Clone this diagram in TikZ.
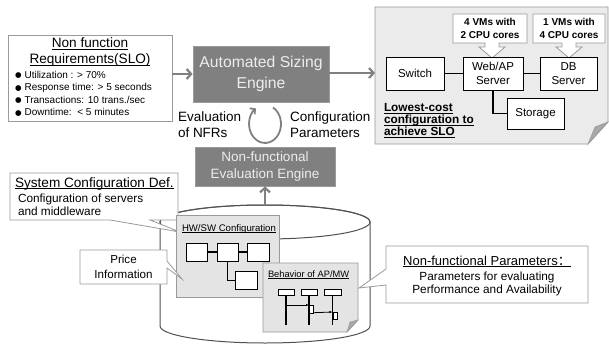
\documentclass[tikz,border=0pt]{standalone}
\usepackage{fontspec}
\setmainfont{Liberation Sans}
\newfontfamily\cjk{Noto Sans CJK SC}
\newfontfamily\dejavu{DejaVu Sans}
\usetikzlibrary{arrows.meta}
\definecolor{engfill}{HTML}{808080}
\definecolor{engtext}{HTML}{EDEDED}
\definecolor{arrgray}{HTML}{808080}
\definecolor{boxline}{HTML}{9A9A9A}
\definecolor{notefill}{HTML}{EBEBEB}
\definecolor{hwfill}{HTML}{E4E4E4}
\definecolor{flapfill}{HTML}{A8A8A8}
\definecolor{cylline}{HTML}{505050}
\newcommand\fs[2]{\fontsize{#1}{#2}\selectfont}
\newcommand\uln[1]{\leavevmode\setbox0=\hbox{#1}\rlap{\rule[-0.17em]{\wd0}{0.07em}}\box0}
\newcommand\bul{{\dejavu\fs{7.5}{12}\raisebox{0.3pt}{●}}\hspace{3pt}}
\begin{document}
\begin{tikzpicture}[x=1pt,y=-1pt,
  txt/.style={inner sep=0pt, outer sep=0pt},
  engine/.style={draw=boxline, fill=engfill, text=engtext, align=center, inner sep=0pt, line width=0.8pt},
  garrow/.style={draw=arrgray, line width=2.2pt, -{Straight Barb[length=4.5pt,width=10pt]}},
  callbox/.style={draw=boxline, fill=white, line width=0.8pt},
  netbox/.style={draw=black, fill=white, line width=1pt, align=center, inner sep=0pt, font=\fs{11.5}{13.5}},
  netline/.style={draw=black, line width=1.5pt},
  notebg/.style={draw=boxline, fill=notefill, line width=0.8pt},
  hwbox/.style={draw=black, fill=white, line width=1pt, inner sep=0pt},
  seqline/.style={draw=black, line width=1.3pt},
  seqarrow/.style={draw=black, line width=0.8pt, -{Latex[length=3pt,width=2.5pt]}}
]
\useasboundingbox (0,0) rectangle (609,345);
\fill[white] (0,0) rectangle (609,345);

% ---------- Non function requirements ----------
\node[callbox, minimum width=164pt, minimum height=86pt, inner sep=0pt] (nfr) at (90,78) {};
\node[txt, anchor=base, font=\fs{13.6}{16}] (nfrh1) at (90,47.5) {\uln{Non function}};
\node[txt, anchor=base, font=\fs{13.6}{16}] (nfrh2) at (90,63.5) {\uln{Requirements(SLO)}};
\node[txt, anchor=base west, font=\fs{10}{12}] (b1) at (15,78) {\bul Utilization : > 70\%};
\node[txt, anchor=base west, font=\fs{10}{12}] (b2) at (15,90.5) {\bul Response time: > 5 seconds};
\node[txt, anchor=base west, font=\fs{10}{12}] (b3) at (15,103) {\bul Transactions: 10 trans./sec};
\node[txt, anchor=base west, font=\fs{10}{12}] (b4) at (15,115.5) {\bul Downtime:\ \ < 5 minutes};

% ---------- Engines ----------
\node[engine, minimum width=136pt, minimum height=56pt, font=\fs{15.7}{20.5}] (ase) at (261,74) {Automated Sizing\\Engine};
\node[engine, minimum width=140pt, minimum height=39pt, font=\fs{13.5}{17}] (nfe) at (265,166.5) {Non-functional\\Evaluation Engine};

\draw[garrow] (nfr.east |- ase.west) -- (ase.west);
\coordinate (notel) at (375,73);
\draw[garrow] (ase.east |- notel) -- (notel);

% loop arrow
\draw[draw=arrgray, line width=1.8pt, -{Straight Barb[length=3.5pt,width=8pt]}]
  (273,107.5) arc[start angle=60, end angle=-235, x radius=16pt, y radius=19pt];
\node[txt, anchor=west, align=left, font=\fs{13.5}{16}] (evl) at (178,125) {Evaluation\\of NFRs};
\node[txt, anchor=west, align=left, font=\fs{13.5}{16}] (cfl) at (290,125) {Configuration\\Parameters};

% ---------- Result note ----------
\path[notebg] (375,7) -- (608,7) -- (608,122) -- (588,144) -- (375,144) -- cycle;
\path[fill=flapfill, draw=boxline, line width=0.6pt] (588,144) -- (608,122) -- (595,127) -- cycle;

% callouts
\path[callbox] (453,14) -- (527,14) -- (527,43) -- (499,43) -- (499,47) -- (505,47) -- (492,58)
  -- (479,47) -- (485,47) -- (485,43) -- (453,43) -- cycle;
\path[callbox] (533,14) -- (605,14) -- (605,43) -- (576,43) -- (576,47) -- (582,47) -- (569,58)
  -- (556,47) -- (562,47) -- (562,43) -- (533,43) -- cycle;
\node[txt, align=center, font=\bfseries\fs{10}{12.5}] (vm1) at (490,28.5) {4 VMs with\\2 CPU cores};
\node[txt, align=center, font=\bfseries\fs{10}{12.5}] (vm2) at (569,28.5) {1 VMs with\\4 CPU cores};

\node[netbox, minimum width=58pt, minimum height=33pt] (sw) at (415,73.5) {Switch};
\node[netbox, minimum width=60pt, minimum height=33pt] (web) at (493,73.5) {Web/AP\\Server};
\node[netbox, minimum width=57pt, minimum height=33pt] (db) at (568.5,73.5) {DB\\Server};
\node[netbox, minimum width=57pt, minimum height=31pt] (st) at (535.5,113.5) {Storage};
\draw[netline] (sw.east) -- (web.west);
\draw[netline] (web.east) -- (db.west);
\draw[netline] (web.south) |- (st.west);

\node[txt, anchor=base west, font=\bfseries\fs{11.8}{12}] (lc1) at (384,111.5) {\uln{Lowest-cost}};
\node[txt, anchor=base west, font=\bfseries\fs{11.8}{12}] (lc2) at (384,123.5) {\uln{configuration to}};
\node[txt, anchor=base west, font=\bfseries\fs{11.8}{12}] (lc3) at (384,135.5) {\uln{achieve SLO}};

% ---------- Cylinder ----------
\path[draw=cylline, fill=white, line width=1pt]
  (160,222) -- (160,326) arc[start angle=180, end angle=360, x radius=105pt, y radius=17pt]
  -- (370,222) arc[start angle=0, end angle=180, x radius=105pt, y radius=17pt] -- cycle;
\draw[draw=cylline, line width=1pt] (265,222) ellipse[x radius=105pt, y radius=17pt];
\coordinate (cyltop) at (265,205);
\draw[garrow] (cyltop) -- (nfe.south);

% System configuration callout
\path[callbox] (10,173) -- (178,173) -- (178,220) -- (150,220) -- (180,232) -- (110,220) -- (10,220) -- cycle;
\node[txt, anchor=base west, font=\fs{13.6}{16}] (scd) at (15,187) {\uln{System Configuration Def.}};
\node[txt, anchor=base west, font=\fs{11.8}{13}] (scd1) at (18,202) {Configuration of servers};
\node[txt, anchor=base west, font=\fs{11.8}{13}] (scd2) at (18,215) {and middleware};

% HW/SW note
\path[draw=boxline, fill=hwfill, line width=0.8pt] (176,215) rectangle (279,297);
\node[txt, anchor=base west, font=\fs{9.6}{11}] (hwt) at (182,231) {\uln{HW/SW Configuration}};
\node[hwbox, minimum width=21pt, minimum height=18pt] (h1) at (196.5,252) {};
\node[hwbox, minimum width=21pt, minimum height=18pt] (h2) at (227.5,252) {};
\node[hwbox, minimum width=22pt, minimum height=18pt] (h3) at (258,252) {};
\node[hwbox, minimum width=22pt, minimum height=18pt] (h4) at (246,280) {};
\draw[netline] (h1.east) -- (h2.west);
\draw[netline] (h2.east) -- (h3.west);
\draw[draw=black, line width=1pt] (h2.south) |- (h4.west);

% Price callout
\path[callbox] (80,250) -- (167,250) -- (167,261) -- (182,279) -- (167,268) -- (167,284) -- (80,284) -- cycle;
\node[txt, align=center, font=\fs{11.6}{15}] (price) at (123.5,267) {Price\\Information};

% Behavior note
\path[draw=boxline, fill=hwfill, line width=0.8pt] (263,263) -- (358,263) -- (358,320) -- (347,332) -- (263,332) -- cycle;
\path[fill=flapfill, draw=boxline, line width=0.5pt] (347,332) -- (358,320) -- (350,322) -- cycle;
\node[txt, anchor=base west, font=\fs{9.3}{11}] (beh) at (268,277.5) {\uln{Behavior of AP/MW}};
\node[hwbox, minimum width=16pt, minimum height=6pt, line width=0.9pt] (s1) at (286,292) {};
\node[hwbox, minimum width=16pt, minimum height=6pt, line width=0.9pt] (s2) at (309,292) {};
\node[hwbox, minimum width=17pt, minimum height=6pt, line width=0.9pt] (s3) at (332.5,292) {};
\coordinate (l1) at (286,325);
\coordinate (l2) at (309,325);
\coordinate (l3) at (332.5,325);
\draw[seqline] (s1.south) -- (l1);
\draw[seqline] (s2.south) -- (l2);
\draw[seqline] (s3.south) -- (l3);
\node[hwbox, minimum width=4pt, minimum height=8pt, line width=0.7pt, anchor=north west] (a2) at (309,305) {};
\node[hwbox, minimum width=4pt, minimum height=7pt, line width=0.7pt, anchor=north west] (a3) at (332.5,312) {};
\coordinate (m1) at (286,305);
\draw[seqarrow] (m1) -- (a2.north west);
\draw[seqarrow] (a2.south east) ++(0,-1) coordinate (m2) -- (a3.north west);

% Non-functional parameters callout
\path[callbox] (386,246) -- (588,246) -- (588,303) -- (386,303) -- (386,285) -- (359,288) -- (386,269) -- cycle;
\node[txt, anchor=base, font=\fs{13}{15}] (nfp) at (487,265) {\uln{Non-functional Parameters{\cjk ：}}};
\node[txt, anchor=base, font=\fs{11.8}{13}] (nfp1) at (487,280) {Parameters for evaluating};
\node[txt, anchor=base, font=\fs{11.8}{13}] (nfp2) at (487,293) {Performance and Availability};
\end{tikzpicture}
\end{document}
